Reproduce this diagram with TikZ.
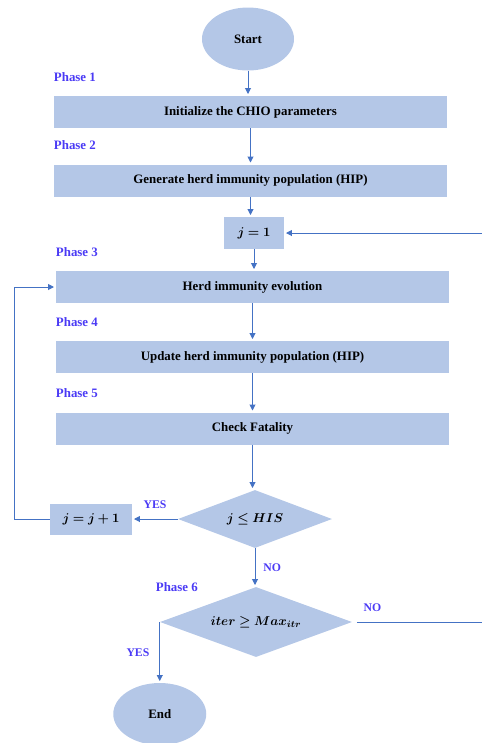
\documentclass[tikz,border=0pt]{standalone}
\usepackage{fontspec}
\setmainfont{Liberation Serif}
\usepackage{amsmath,bm}
\usetikzlibrary{arrows.meta,shapes.geometric,positioning}

\definecolor{boxfill}{HTML}{B4C7E7}
\definecolor{flowline}{HTML}{4472C4}
\definecolor{phaseblue}{HTML}{4B3BF5}

\begin{document}
\begin{tikzpicture}[x=0.03cm,y=-0.03cm,
    font=\fontsize{11}{13}\selectfont\bfseries,
    terminal/.style={ellipse,fill=boxfill,minimum width=2.76cm,minimum height=1.89cm},
    block/.style={rectangle,fill=boxfill,minimum width=11.79cm,minimum height=0.96cm},
    smallblock/.style={rectangle,fill=boxfill,minimum height=0.96cm},
    decision/.style={diamond,fill=boxfill,inner sep=0pt},
    phase/.style={text=phaseblue,inner sep=0pt},
    answer/.style={text=phaseblue,inner sep=0pt,font=\fontsize{10}{11}\selectfont\bfseries},
    flow/.style={draw=flowline,line width=0.8pt,-{Triangle[width=5pt,length=5pt]},shorten >=1.5pt}]

  \useasboundingbox (0,0) rectangle (482,743);

  \node[terminal] (start) at (248,39) {Start};
  \node[block] (init) at (250.5,112) {Initialize the CHIO parameters};
  \node[block] (gen) at (250.5,180.5) {Generate herd immunity population (HIP)};
  \node[smallblock,minimum width=1.8cm] (jone) at (254,233) {$\bm{j = 1}$};
  \node[block] (evol) at (252.5,287) {Herd immunity evolution};
  \node[block] (upd) at (252.5,357) {Update herd immunity population (HIP)};
  \node[block] (fat) at (252.5,428.5) {Check Fatality};
  \node[decision,aspect=2.66,minimum width=4.62cm,minimum height=1.74cm] (chk) at (255,519) {$\bm{j \le HIS}$};
  \node[smallblock,minimum width=2.46cm,minimum height=0.93cm] (incr) at (91,519) {$\bm{j = j + 1}$};
  \node[decision,aspect=2.74,minimum width=5.76cm,minimum height=2.1cm] (iter) at (256,622) {$\bm{iter \ge Max_{itr}}$};
  \node[terminal,minimum width=2.79cm,minimum height=1.86cm] (end) at (iter.west |- 0,714) {End};

  % phase labels
  \node[phase,above right=0.42cm and 0cm of init.north west] (ph1) {Phase 1};
  \node[phase,above right=0.42cm and 0cm of gen.north west] (ph2) {Phase 2};
  \node[phase,above right=0.42cm and 0cm of evol.north west] (ph3) {Phase 3};
  \node[phase,above right=0.42cm and 0cm of upd.north west] (ph4) {Phase 4};
  \node[phase,above right=0.42cm and 0cm of fat.north west] (ph5) {Phase 5};
  \node[phase,left=1.74cm of iter.north] (ph6) {Phase 6};

  \coordinate (loopleft) at (incr.west -| 14,0);
  \coordinate (loopright) at (iter.east -| 484,0);

  \draw[flow] (start.south) -- (start.south |- init.north);
  \draw[flow] (init.south) -- (init.south |- gen.north);
  \draw[flow] (gen.south) -- (gen.south |- jone.north);
  \draw[flow] (jone.south) -- (jone.south |- evol.north);
  \draw[flow] (evol.south) -- (evol.south |- upd.north);
  \draw[flow] (upd.south) -- (upd.south |- fat.north);
  \draw[flow] (fat.south) -- (fat.south |- chk.north);
  \draw[flow] (chk.west) -- node[answer,above=0.3cm] {YES} (incr.east);
  \draw[flow] (incr.west) -- (loopleft) |- (evol.west);
  \draw[flow] (chk.south) -- node[answer,right=0.24cm] {NO} (chk.south |- iter.north);
  \draw[flow,shorten <=4pt] (iter.east) -- node[answer,pos=0,above right=0.3cm and 0.33cm] {NO} (loopright) |- (jone.east);
  \draw[flow] (iter.west) -- node[answer,left=0.3cm] {YES} (end.north);
\end{tikzpicture}
\end{document}
